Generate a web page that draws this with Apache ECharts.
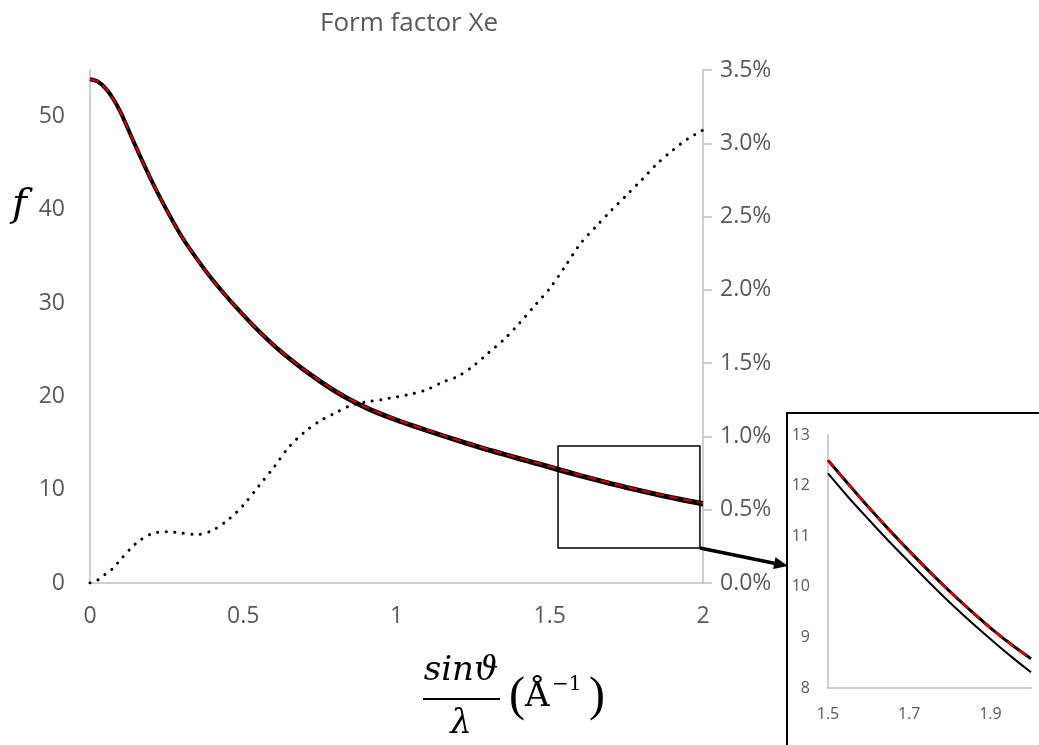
<!DOCTYPE html>
<html>
<head>
<meta charset="utf-8">
<title>Form factor Xe</title>
<script src="https://cdn.jsdelivr.net/npm/echarts@6/dist/echarts.min.js"></script>
<style>
    html, body { margin: 0; padding: 0; background: #fff; }
    #main { width: 1039px; height: 745px; }
</style>
</head>
<body>
<div id="main"></div>
<script>
// sin(theta)/lambda, 1/A
var s = [0, 0.025, 0.05, 0.075, 0.1, 0.15, 0.2, 0.25, 0.3, 0.35, 0.4, 0.45,
    0.5, 0.55, 0.6, 0.65, 0.7, 0.75, 0.8, 0.85, 0.9, 0.95,
    1.0, 1.05, 1.1, 1.15, 1.2, 1.25, 1.3, 1.35, 1.4, 1.45,
    1.5, 1.55, 1.6, 1.65, 1.7, 1.75, 1.8, 1.85, 1.9, 1.95, 2.0];

// tabulated form factor (thick black)
var fTable = [54.0, 53.76, 53.05, 51.95, 50.45, 46.75, 43.2, 40.0, 37.1, 34.7, 32.5, 30.55,
    28.75, 27.05, 25.5, 24.12, 22.85, 21.7, 20.62, 19.68, 18.86, 18.15,
    17.52, 16.95, 16.4, 15.86, 15.33, 14.82, 14.33, 13.86, 13.4, 12.95,
    12.5, 12.03, 11.57, 11.13, 10.71, 10.3, 9.91, 9.54, 9.19, 8.87, 8.58];

// fitted form factor (red dashed)
var fFit = [54.0, 53.76, 53.05, 51.95, 50.45, 46.75, 43.2, 40.0, 37.1, 34.7, 32.5, 30.55,
    28.75, 27.05, 25.5, 24.12, 22.85, 21.7, 20.62, 19.68, 18.86, 18.15,
    17.52, 16.95, 16.4, 15.86, 15.33, 14.82, 14.33, 13.86, 13.4, 12.95,
    12.5, 12.03, 11.57, 11.13, 10.71, 10.3, 9.91, 9.54, 9.19, 8.87, 8.58];

// second calculation (thin black)
var fCalc = [54.0, 53.75, 53.02, 51.9, 50.37, 46.62, 43.06, 39.86, 36.97, 34.59, 32.38, 30.42,
    28.6, 26.87, 25.3, 23.9, 22.62, 21.46, 20.38, 19.44, 18.63, 17.92,
    17.3, 16.73, 16.18, 15.64, 15.11, 14.6, 14.1, 13.63, 13.16, 12.71,
    12.24, 11.77, 11.33, 10.9, 10.49, 10.08, 9.69, 9.32, 8.97, 8.63, 8.31];

// relative difference, % (dotted, right axis)
var diffPct = [0, 0.02, 0.06, 0.1, 0.16, 0.27, 0.335, 0.35, 0.34, 0.33, 0.36, 0.43,
    0.53, 0.66, 0.79, 0.93, 1.03, 1.105, 1.16, 1.21, 1.235, 1.25,
    1.27, 1.29, 1.32, 1.37, 1.41, 1.48, 1.57, 1.66, 1.77, 1.89,
    2.01, 2.16, 2.315, 2.43, 2.54, 2.645, 2.75, 2.86, 2.95, 3.03, 3.09];

var leftTicks = [0, 10, 20, 30, 40, 50];
var insetXTicks = [1.5, 1.7, 1.9];

var dom = document.getElementById('main');
var myChart = echarts.init(dom);

var gray = '#595959';
var axisGray = '#bfbfbf';
var sansFont = '"Open Sans", "Noto Sans", sans-serif';
var mathFont = '"DejaVu Serif", "Liberation Serif", serif';
var parenFont = '"Liberation Serif", "DejaVu Serif", serif';

function pairs(ys, from){
    var out = [];
    for(var i = 0; i < s.length; i++){
        if(from === undefined || s[i] >= from - 1e-9){
            out.push([s[i], ys[i]]);
        }
    }
    return out;
}

function lineSeries(name, ys, xi, yi, style, from){
    return {
        name: name,
        type: 'line',
        xAxisIndex: xi,
        yAxisIndex: yi,
        smooth: 0.3,
        showSymbol: false,
        lineStyle: style,
        data: pairs(ys, from)
    };
}

var option = {
    animation: false,
    backgroundColor: '#fff',
    title: {
        text: 'Form factor Xe',
        left: 315,
        top: 6,
        textStyle: {
            color: gray,
            fontFamily: sansFont,
            fontWeight: 'normal',
            fontSize: 26
        }
    },
    grid: [{
        left: 90,
        right: 336,
        top: 70,
        bottom: 162
    },{
        left: 828,
        right: 8,
        top: 435,
        bottom: 57
    }],
    xAxis: [{
        type: 'value',
        gridIndex: 0,
        min: 0,
        max: 2,
        interval: 0.5,
        axisLine: { show: true, lineStyle: { color: axisGray, width: 1.5 } },
        axisTick: { show: false },
        splitLine: { show: false },
        axisLabel: {
            color: gray,
            fontFamily: sansFont,
            fontSize: 23,
            margin: 22
        }
    },{
        type: 'value',
        gridIndex: 1,
        min: 1.5,
        max: 2.0,
        interval: 0.1,
        axisLine: { show: true, lineStyle: { color: axisGray, width: 1.5 } },
        axisTick: { show: false },
        splitLine: { show: false },
        axisLabel: {
            color: gray,
            fontFamily: sansFont,
            fontSize: 16,
            margin: 18,
            formatter: function(v){
                for(var i = 0; i < insetXTicks.length; i++){
                    if(Math.abs(v - insetXTicks[i]) < 1e-6) return insetXTicks[i].toFixed(1);
                }
                return '';
            }
        }
    }],
    yAxis: [{
        type: 'value',
        gridIndex: 0,
        position: 'left',
        min: 0,
        max: 55,
        interval: 10,
        axisLine: { show: true, lineStyle: { color: axisGray, width: 1.5 } },
        axisTick: { show: false },
        splitLine: { show: false },
        axisLabel: {
            color: gray,
            fontFamily: sansFont,
            fontSize: 23,
            margin: 25,
            formatter: function(v){
                return leftTicks.indexOf(v) >= 0 ? String(v) : '';
            }
        }
    },{
        type: 'value',
        gridIndex: 0,
        position: 'right',
        min: 0,
        max: 3.5,
        interval: 0.5,
        axisLine: { show: true, lineStyle: { color: axisGray, width: 1.5 } },
        axisTick: { show: true, length: 9, lineStyle: { color: axisGray, width: 1.5 } },
        splitLine: { show: false },
        axisLabel: {
            color: gray,
            fontFamily: sansFont,
            fontSize: 23,
            margin: 17,
            formatter: function(v){
                return v.toFixed(1) + '%';
            }
        }
    },{
        type: 'value',
        gridIndex: 1,
        min: 8,
        max: 13,
        interval: 1,
        axisLine: { show: true, lineStyle: { color: axisGray, width: 1.5 } },
        axisTick: { show: false },
        splitLine: { show: false },
        axisLabel: {
            color: gray,
            fontFamily: sansFont,
            fontSize: 16,
            margin: 18
        }
    }],
    series: [
        lineSeries('diff', diffPct, 0, 1, { color: '#000', width: 3, type: [0.1, 8.5], cap: 'round' }),
        lineSeries('calc', fCalc, 0, 0, { color: '#000', width: 2 }),
        lineSeries('table', fTable, 0, 0, { color: '#000', width: 4 }),
        lineSeries('fit', fFit, 0, 0, { color: '#e00000', width: 2, type: [9, 5] }),
        lineSeries('calc inset', fCalc, 1, 2, { color: '#000', width: 2 }, 1.5),
        lineSeries('table inset', fTable, 1, 2, { color: '#000', width: 3 }, 1.5),
        lineSeries('fit inset', fFit, 1, 2, { color: '#e00000', width: 2.5, type: [9, 6] }, 1.5)
    ]
};

myChart.setOption(option);

// zoom box on the main plot, in data units, and the arrow to the inset frame
var zoomFrom = myChart.convertToPixel({ xAxisIndex: 0, yAxisIndex: 0 }, [1.527, 14.7]);
var zoomTo = myChart.convertToPixel({ xAxisIndex: 0, yAxisIndex: 0 }, [1.99, 3.75]);
var insetLeft = 787, insetTop = 413;
var tip = [insetLeft + 1, 566];
var start = [zoomTo[0], zoomTo[1]];
var ang = Math.atan2(tip[1] - start[1], tip[0] - start[0]);
var headLen = 14, headW = 6;
var base = [tip[0] - headLen * Math.cos(ang), tip[1] - headLen * Math.sin(ang)];

myChart.setOption({
    graphic: [{
        type: 'rect',
        shape: { x: insetLeft, y: insetTop, width: 300, height: 400 },
        style: { fill: 'none', stroke: '#000', lineWidth: 2 },
        z: 10
    },{
        type: 'rect',
        shape: {
            x: zoomFrom[0],
            y: zoomFrom[1],
            width: zoomTo[0] - zoomFrom[0],
            height: zoomTo[1] - zoomFrom[1]
        },
        style: { fill: 'none', stroke: '#000', lineWidth: 1.5 },
        z: 10
    },{
        type: 'line',
        shape: { x1: start[0], y1: start[1], x2: base[0], y2: base[1] },
        style: { stroke: '#000', lineWidth: 3.5 },
        z: 10
    },{
        type: 'polygon',
        shape: {
            points: [
                tip,
                [base[0] + headW * Math.sin(ang), base[1] - headW * Math.cos(ang)],
                [base[0] - headW * Math.sin(ang), base[1] + headW * Math.cos(ang)]
            ]
        },
        style: { fill: '#000' },
        z: 10
    },{
        // y axis name
        type: 'text',
        left: 12,
        top: 186,
        style: { text: 'f', font: 'italic 40px ' + mathFont, fill: '#000' },
        z: 10
    },{
        // x axis name: sin(theta)/lambda (A^-1)
        type: 'text',
        x: 461,
        y: 688,
        style: { text: 'sin\u03d1', font: 'italic 34px ' + mathFont, fill: '#000', textAlign: 'center', textVerticalAlign: 'bottom' },
        z: 10
    },{
        type: 'line',
        shape: { x1: 423, y1: 699, x2: 500, y2: 699 },
        style: { stroke: '#000', lineWidth: 2 },
        z: 10
    },{
        type: 'text',
        x: 461,
        y: 741,
        style: { text: '\u03bb', font: 'italic 34px ' + mathFont, fill: '#000', textAlign: 'center', textVerticalAlign: 'bottom' },
        z: 10
    },{
        type: 'text',
        x: 509,
        y: 697,
        style: { text: '(', font: '48px ' + parenFont, fill: '#000', textAlign: 'left', textVerticalAlign: 'middle' },
        z: 10
    },{
        type: 'text',
        x: 525,
        y: 697,
        style: { text: '\u00c5', font: '34px ' + mathFont, fill: '#000', textAlign: 'left', textVerticalAlign: 'middle' },
        z: 10
    },{
        type: 'text',
        x: 552,
        y: 685,
        style: { text: '\u22121', font: '20px ' + mathFont, fill: '#000', textAlign: 'left', textVerticalAlign: 'middle' },
        z: 10
    },{
        type: 'text',
        x: 589,
        y: 697,
        style: { text: ')', font: '48px ' + parenFont, fill: '#000', textAlign: 'left', textVerticalAlign: 'middle' },
        z: 10
    }]
});

window.addEventListener('resize', function(){
    myChart.resize();
});
</script>
</body>
</html>
